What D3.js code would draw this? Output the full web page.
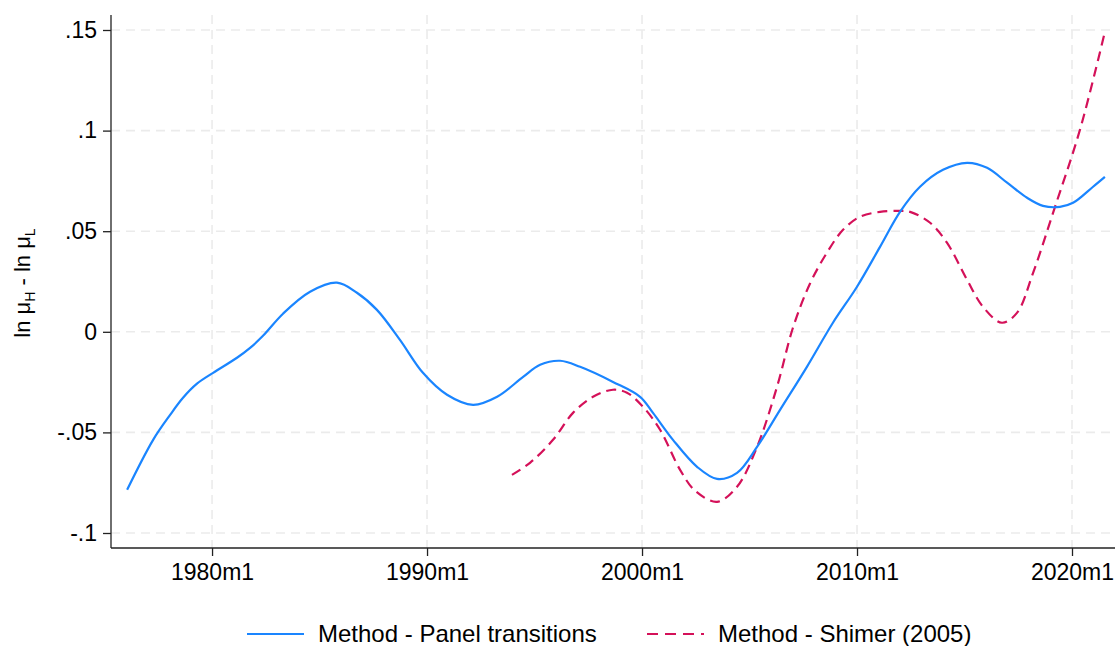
<!DOCTYPE html>
<html>
<head>
<meta charset="utf-8">
<script src="https://cdn.jsdelivr.net/npm/d3@7"></script>
<style>
  body { margin: 0; background: #fff; }
  svg text { font-family: "Liberation Sans", Arial, sans-serif; fill: #000; }
</style>
</head>
<body>
<svg id="chart" width="1115" height="646"></svg>
<script>
// Panel transitions method (decimal year, ln muH - ln muL)
var panelDates = [1976.05, 1977.26, 1978.05, 1978.65, 1979.30, 1980.05, 1981.16, 1981.77, 1982.37, 1983.30,
  1984.56, 1985.81, 1986.74, 1987.67, 1988.74, 1989.81, 1990.93, 1992.14, 1993.26, 1994.47,
  1995.26, 1996.19, 1997.12, 1998.65, 1999.91, 2000.51, 2001.44, 2002.56, 2003.49, 2004.42,
  2005.35, 2006.42, 2007.67, 2008.88, 2010.00, 2011.07, 2012.00, 2012.93, 2014.00, 2015.12,
  2016.05, 2016.98, 2017.91, 2018.65, 2019.44, 2020.05, 2020.98, 2021.53];
var panelValues = [-0.0785, -0.0537, -0.0413, -0.0328, -0.0258, -0.0204, -0.0129, -0.0080, -0.0020, 0.0090,
  0.0199, 0.0244, 0.0194, 0.0109, -0.0040, -0.0204, -0.0313, -0.0363, -0.0323, -0.0224,
  -0.0164, -0.0144, -0.0174, -0.0249, -0.0323, -0.0403, -0.0537, -0.0671, -0.0731, -0.0701,
  -0.0572, -0.0388, -0.0174, 0.0045, 0.0224, 0.0422, 0.0596, 0.0721, 0.0805, 0.0840,
  0.0815, 0.0741, 0.0666, 0.0626, 0.0621, 0.0641, 0.0721, 0.0770];

// Shimer (2005) method
var shimerDates = [1993.95, 1994.79, 1995.86, 1996.79, 1997.72, 1998.65, 1999.30, 2000.05, 2000.84, 2001.77,
  2002.47, 2003.49, 2004.42, 2005.35, 2006.28, 2007.02, 2007.81, 2008.60, 2009.35, 2010.14,
  2011.07, 2012.00, 2012.47, 2013.40, 2014.19, 2015.12, 2015.86, 2016.74, 2017.44, 2018.19,
  2019.21, 2020.37, 2021.53];
var shimerValues = [-0.0711, -0.0651, -0.0537, -0.0403, -0.0323, -0.0288, -0.0303, -0.0373, -0.0487, -0.0686,
  -0.0790, -0.0845, -0.0770, -0.0572, -0.0273, 0.0020, 0.0239, 0.0393, 0.0507, 0.0572,
  0.0596, 0.0601, 0.0596, 0.0542, 0.0442, 0.0258, 0.0124, 0.0045, 0.0094, 0.0293,
  0.0621, 0.1004, 0.1491];

var xTicks = [1980, 1990, 2000, 2010, 2020];
var xTickLabels = ["1980m1", "1990m1", "2000m1", "2010m1", "2020m1"];
var yTicks = [-0.1, -0.05, 0, 0.05, 0.1, 0.15];
var yTickLabels = ["-.1", "-.05", "0", ".05", ".1", ".15"];

var seriesNames = ["Method - Panel transitions", "Method - Shimer (2005)"];
var colors = ["#1a85ff", "#d41159"];

var svg = d3.select("#chart");
var plotLeft = 111, plotRight = 1115, plotTop = 15, plotBottom = 548;

var x = d3.scaleLinear().domain([1975.3, 2022.0]).range([plotLeft, plotRight]);
var y = d3.scaleLinear().domain([-0.1, 0.15]).range([533, 30]);

// grid
var grid = svg.append("g").attr("stroke", "#ebebeb").attr("stroke-width", 1.6)
  .attr("stroke-dasharray", "9,6");
grid.selectAll(".gy").data(yTicks).enter().append("line")
  .attr("x1", plotLeft).attr("x2", plotRight)
  .attr("y1", function (d) { return y(d); }).attr("y2", function (d) { return y(d); });
grid.selectAll(".gx").data(xTicks).enter().append("line")
  .attr("y1", plotTop).attr("y2", plotBottom)
  .attr("x1", function (d) { return x(d); }).attr("x2", function (d) { return x(d); });

// axes
var yAxis = d3.axisLeft(y).tickValues(yTicks).tickSize(8).tickPadding(6)
  .tickFormat(function (d, i) { return yTickLabels[i]; });
var gy = svg.append("g").attr("transform", "translate(" + plotLeft + ",0)").call(yAxis);
gy.select(".domain").remove();
gy.append("line").attr("x1", 0).attr("x2", 0).attr("y1", plotTop).attr("y2", plotBottom)
  .attr("stroke", "#222").attr("stroke-width", 1.3);

var xAxis = d3.axisBottom(x).tickValues(xTicks).tickSize(8).tickPadding(8)
  .tickFormat(function (d, i) { return xTickLabels[i]; });
var gx = svg.append("g").attr("transform", "translate(0," + plotBottom + ")").call(xAxis);
gx.select(".domain").remove();
gx.append("line").attr("x1", plotLeft).attr("x2", plotRight).attr("y1", 0).attr("y2", 0)
  .attr("stroke", "#222").attr("stroke-width", 1.3);

svg.selectAll(".tick line").attr("stroke", "#222").attr("stroke-width", 1.3);
svg.selectAll(".tick text").style("font-size", "23px")
  .style("font-family", "'Liberation Sans', Arial, sans-serif");

// y axis title
var yt = svg.append("text")
  .attr("transform", "translate(30,283) rotate(-90)")
  .attr("text-anchor", "middle")
  .style("font-size", "22px");
yt.append("tspan").text("ln μ");
yt.append("tspan").text("H").attr("dy", 5).style("font-size", "14px");
yt.append("tspan").text(" - ln μ").attr("dy", -5);
yt.append("tspan").text("L").attr("dy", 5).style("font-size", "14px");

// lines
var line = d3.line()
  .x(function (d) { return x(d[0]); })
  .y(function (d) { return y(d[1]); })
  .curve(d3.curveCatmullRom.alpha(0.5));

var panel = d3.zip(panelDates, panelValues);
var shimer = d3.zip(shimerDates, shimerValues);

svg.append("path").datum(shimer).attr("d", line)
  .attr("fill", "none").attr("stroke", colors[1]).attr("stroke-width", 2.2)
  .attr("stroke-dasharray", "10,6");
svg.append("path").datum(panel).attr("d", line)
  .attr("fill", "none").attr("stroke", colors[0]).attr("stroke-width", 2.2);

// legend
var legend = svg.append("g");
var lx = [247, 647];
legend.selectAll("line").data(seriesNames).enter().append("line")
  .attr("x1", function (_, i) { return lx[i]; })
  .attr("x2", function (_, i) { return lx[i] + 57; })
  .attr("y1", 634).attr("y2", 634)
  .attr("stroke", function (_, i) { return colors[i]; })
  .attr("stroke-width", 2.2)
  .attr("stroke-dasharray", function (_, i) { return i === 1 ? "11,7" : null; });
legend.selectAll("text").data(seriesNames).enter().append("text")
  .attr("x", function (_, i) { return lx[i] + 71; })
  .attr("y", 642)
  .style("font-size", "24px")
  .text(function (d) { return d; });
</script>
</body>
</html>
